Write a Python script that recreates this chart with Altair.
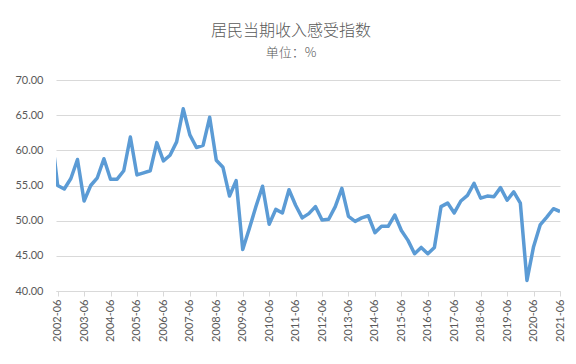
import json
import altair as alt
import pandas as pd

# Quarterly periods; the first one (2002-03) lies just outside the visible range and is clipped
periods = [f"{p.year}-{p.quarter * 3:02d}" for p in pd.period_range("2002Q1", "2021Q2", freq="Q")]

values = [
    63.0,
    55.0, 54.5, 56.0, 58.7, 52.8, 55.0, 56.1, 58.8, 55.9, 55.9,
    57.1, 61.9, 56.5, 56.8, 57.1, 61.1, 58.5, 59.3, 61.2, 65.9,
    62.2, 60.4, 60.7, 64.7, 58.6, 57.6, 53.5, 55.7, 45.9, 48.9,
    52.0, 54.9, 49.5, 51.6, 51.1, 54.4, 52.2, 50.4, 51.0, 52.0,
    50.1, 50.2, 52.0, 54.6, 50.6, 49.9, 50.4, 50.7, 48.3, 49.2,
    49.2, 50.8, 48.6, 47.2, 45.3, 46.2, 45.3, 46.2, 52.0, 52.5,
    51.1, 52.8, 53.6, 55.3, 53.2, 53.5, 53.4, 54.7, 52.9, 54.1,
    52.5, 41.5, 46.3, 49.4, 50.5, 51.7, 51.3,
]

tick_labels = ["2002-06", "2003-06", "2004-06", "2005-06", "2006-06", "2007-06",
               "2008-06", "2009-06", "2010-06", "2011-06", "2012-06", "2013-06",
               "2014-06", "2015-06", "2016-06", "2017-06", "2018-06", "2019-06",
               "2020-06", "2021-06"]
y_ticks = [40, 45, 50, 55, 60, 65, 70]

df = pd.DataFrame({
    "period": periods,
    "idx": list(range(-1, len(periods) - 1)),
    "value": values,
})

tick_positions = [periods.index(t) - 1 for t in tick_labels]
label_expr = f"{json.dumps(tick_labels)}[floor(datum.value / 4)]"

GRAY = "#595959"
GRID = "#D9D9D9"

chart = alt.Chart(df).mark_line(
    color="#5B9BD5", strokeWidth=3.5, clip=True, strokeJoin="round"
).encode(
    x=alt.X(
        "idx:Q",
        scale=alt.Scale(domain=[-0.25, 76], nice=False, zero=False),
        axis=alt.Axis(
            values=tick_positions, labelExpr=label_expr, labelAngle=-90,
            grid=False, domainColor=GRID, tickColor=GRID, tickSize=5,
            labelColor=GRAY, labelFont="Lato", labelFontSize=11, labelPadding=3,
            title=None,
        ),
    ),
    y=alt.Y(
        "value:Q",
        scale=alt.Scale(domain=[40, 70], nice=False, zero=False),
        axis=alt.Axis(
            values=y_ticks, format=".2f", grid=True, gridColor=GRID, domain=False,
            ticks=False, labelPadding=13, labelColor=GRAY, labelFont="Lato",
            labelFontSize=11, title=None,
        ),
    ),
    tooltip=["period", "value"],
).properties(
    width=504,
    height=211,
    title=alt.TitleParams(
        text="居民当期收入感受指数", subtitle="单位：%",
        font="Noto Sans CJK SC", fontSize=16, fontWeight=300, color=GRAY,
        subtitleFont="Noto Sans CJK SC", subtitleFontSize=13, subtitleFontWeight=300,
        subtitleColor=GRAY, anchor="middle", dx=-17, offset=14, subtitlePadding=8,
    ),
    autosize=alt.AutoSizeParams(type="none"),
    padding={"left": 48, "top": 72, "right": 8, "bottom": 56},
).configure_view(stroke=None)

chart.save("out.html", embed_options={"renderer": "svg", "actions": False})
